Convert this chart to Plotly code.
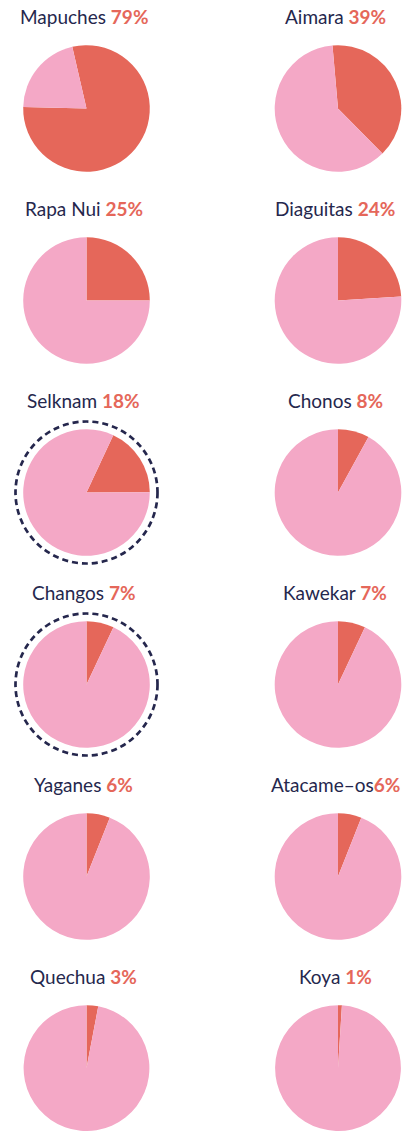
import plotly.graph_objects as go

# ---- data ----
names = ["Mapuches", "Aimara", "Rapa Nui", "Diaguitas", "Selknam", "Chonos",
         "Changos", "Kawekar", "Yaganes", "Atacame–os", "Quechua", "Koya"]
percents = [79, 39, 25, 24, 18, 8, 7, 7, 6, 6, 3, 1]
separators = [" ", " ", " ", " ", " ", " ", " ", " ", " ", "", " ", " "]
start_angles = [-13, -5, 0, 0, 25, 0, 0, 0, 0, 0, 0, 0]
highlighted = ["Selknam", "Changos"]

# ---- style ----
W, H = 406, 1131
RED = "#E5675A"
PINK = "#F4A8C6"
NAVY = "#25274D"
FONT = "Lato"
col_x = [86.5, 338.0]
row0_y, row_step = 108.5, 192.0
R = 63.3

fig = go.Figure()
for i, (name, pct) in enumerate(zip(names, percents)):
    cx = col_x[i % 2]
    cy = row0_y + row_step * (i // 2)
    x0, x1 = (cx - R) / W, (cx + R) / W
    y0, y1 = 1 - (cy + R) / H, 1 - (cy - R) / H
    y0 = max(0.0, y0)
    fig.add_trace(go.Pie(
        values=[pct, 100 - pct],
        labels=[name + " (sí)", name + " (resto)"],
        marker=dict(colors=[RED, PINK], line=dict(width=0)),
        sort=False, direction="clockwise", rotation=start_angles[i],
        textinfo="none", hoverinfo="label+percent", showlegend=False,
        domain=dict(x=[x0, x1], y=[y0, y1]),
    ))
    fig.add_annotation(
        x=(cx - 3) / W, y=1 - (cy - 92) / H, xref="paper", yref="paper",
        xanchor="center", yanchor="middle", showarrow=False,
        text=f"{name}{separators[i]}<b><span style='color:{RED}'>{pct}%</span></b>",
        font=dict(family=FONT, size=19, color=NAVY),
    )
    if name in highlighted:
        rr = 71
        fig.add_shape(
            type="circle", xref="paper", yref="paper",
            x0=(cx - rr) / W, x1=(cx + rr) / W,
            y0=1 - (cy + rr) / H, y1=1 - (cy - rr) / H,
            line=dict(color=NAVY, width=2.7, dash="6px,4px"),
            layer="above",
        )

fig.update_layout(
    width=W, height=H, margin=dict(l=0, r=0, t=0, b=0),
    paper_bgcolor="white", plot_bgcolor="white",
)
fig.write_html(
    "out.html",
    config={"displayModeBar": False},
    post_script="document.body.style.margin='0';document.body.style.overflow='hidden';",
)
